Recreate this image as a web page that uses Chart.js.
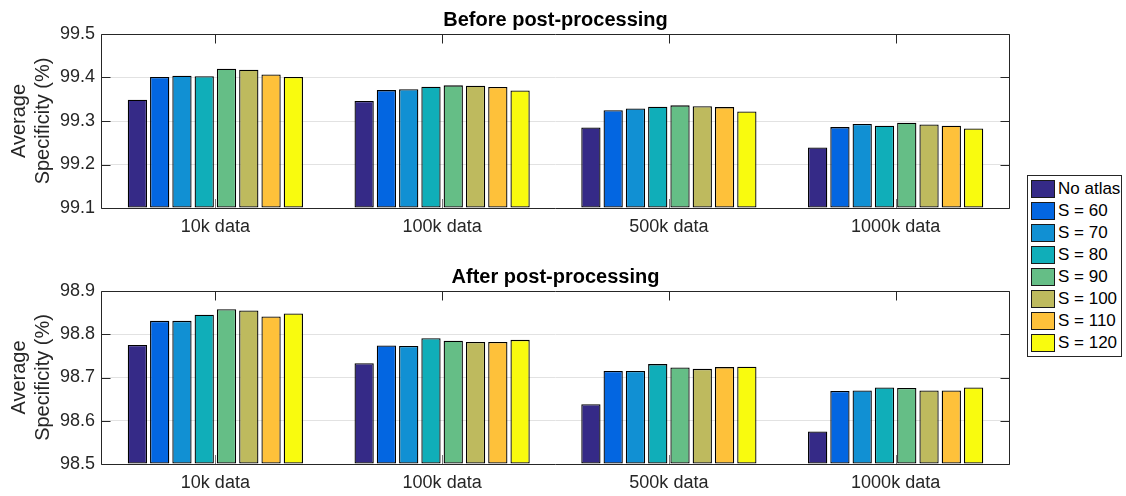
<!DOCTYPE html>
<html>
<head>
<meta charset="utf-8">
<script src="https://cdn.jsdelivr.net/npm/chart.js@4.4.1/dist/chart.umd.min.js"></script>
<style>
  html, body { margin: 0; padding: 0; background: #fff; }
  #wrap { position: relative; width: 1126px; height: 496px; overflow: hidden; font-family: "Liberation Sans", Arial, sans-serif; }
  .pane { position: absolute; left: 0; width: 1126px; height: 248px; }
  #legend { position: absolute; left: 1027px; top: 175px; width: 95px; height: 182px; box-sizing: border-box; border: 1px solid #262626; background: #fff; }
  .item { position: absolute; left: 3px; height: 18px; width: 90px; }
  .sw { position: absolute; left: 0; top: 0; width: 24px; height: 18px; box-sizing: border-box; border: 1px solid #1a1a1a; }
  .lbl { position: absolute; left: 27px; top: -1px; font-size: 17px; line-height: 20px; color: #000; white-space: nowrap; }
</style>
</head>
<body>
<div id="wrap">
  <canvas id="before" class="pane" style="top:0" width="1126" height="248"></canvas>
  <canvas id="after" class="pane" style="top:248px" width="1126" height="248"></canvas>
  <div id="legend"></div>
</div>
<script>
// Dataset sizes on the x axis
const categories = ['10k data', '100k data', '500k data', '1000k data'];

// Series names and fill colours
const seriesNames = ['No atlas', 'S = 60', 'S = 70', 'S = 80', 'S = 90', 'S = 100', 'S = 110', 'S = 120'];
const seriesColors = ['#352A87', '#0366E1', '#1190D3', '#10AEB9', '#65BE86', '#BEBA5E', '#FEC13A', '#F9FB0E'];

// Average specificity (%) before post-processing, one array per series
const noAtlasBefore = [99.349, 99.346, 99.285, 99.239];
const s60Before     = [99.401, 99.371, 99.325, 99.286];
const s70Before     = [99.404, 99.373, 99.329, 99.293];
const s80Before     = [99.403, 99.379, 99.333, 99.289];
const s90Before     = [99.420, 99.382, 99.336, 99.296];
const s100Before    = [99.418, 99.381, 99.334, 99.292];
const s110Before    = [99.407, 99.378, 99.332, 99.289];
const s120Before    = [99.401, 99.370, 99.322, 99.283];

// Average specificity (%) after post-processing
const noAtlasAfter = [98.775, 98.733, 98.638, 98.575];
const s60After     = [98.831, 98.774, 98.715, 98.669];
const s70After     = [98.831, 98.773, 98.715, 98.670];
const s80After     = [98.845, 98.791, 98.731, 98.677];
const s90After     = [98.858, 98.785, 98.723, 98.676];
const s100After    = [98.855, 98.782, 98.720, 98.670];
const s110After    = [98.841, 98.782, 98.724, 98.670];
const s120After    = [98.848, 98.787, 98.725, 98.677];

// Value axis ranges
const beforeTicks = [99.1, 99.2, 99.3, 99.4, 99.5];
const afterTicks  = [98.5, 98.6, 98.7, 98.8, 98.9];

const beforeSeries = [noAtlasBefore, s60Before, s70Before, s80Before, s90Before, s100Before, s110Before, s120Before];
const afterSeries  = [noAtlasAfter, s60After, s70After, s80After, s90After, s100After, s110After, s120After];

const FONT = '"Liberation Sans", Arial, sans-serif';
const AXIS = '#262626';

// Axes box, inward tick marks and the panel title
const framePlugin = {
  id: 'frame',
  beforeDatasetsDraw(chart) {
    const { ctx, chartArea: a, scales: { x } } = chart;
    ctx.save();
    ctx.strokeStyle = '#7a7a7a';
    ctx.lineWidth = 1;
    x.ticks.forEach((t, i) => {
      const px = Math.round(x.getPixelForTick(i)) + 0.5;
      ctx.beginPath();
      ctx.moveTo(px, a.bottom);
      ctx.lineTo(px, a.bottom - 9);
      ctx.stroke();
    });
    ctx.restore();
  },
  afterDatasetsDraw(chart, args, opts) {
    const { ctx, chartArea: a, scales: { x, y } } = chart;
    const L = Math.round(a.left) - 0.5, R = Math.round(a.right) + 0.5;
    const T = Math.round(a.top) + 0.5, B = Math.round(a.bottom) + 0.5;
    ctx.save();
    ctx.strokeStyle = AXIS;
    ctx.lineWidth = 1;
    ctx.beginPath();
    ctx.rect(L, T, R - L, B - T);
    ctx.stroke();
    y.ticks.forEach((t, i) => {
      const py = Math.round(y.getPixelForTick(i)) + 0.5;
      ctx.beginPath();
      ctx.moveTo(L, py); ctx.lineTo(L + 9, py);
      ctx.moveTo(R, py); ctx.lineTo(R - 9, py);
      ctx.stroke();
    });
    x.ticks.forEach((t, i) => {
      const px = Math.round(x.getPixelForTick(i)) + 0.5;
      ctx.beginPath();
      ctx.moveTo(px, T); ctx.lineTo(px, T + 9);
      ctx.stroke();
    });
    ctx.fillStyle = '#000';
    ctx.font = 'bold 20px ' + FONT;
    ctx.textAlign = 'center';
    ctx.textBaseline = 'alphabetic';
    ctx.fillText(opts.text, (a.left + a.right) / 2, a.top - 8.5);
    ctx.restore();
  }
};

function makeChart(id, series, ticks, title, padTop, xAxisHeight) {
  const yMin = ticks[0], yMax = ticks[ticks.length - 1];
  const datasets = series.map((vals, i) => ({
    label: seriesNames[i],
    data: vals,
    backgroundColor: seriesColors[i],
    borderColor: '#000',
    borderWidth: 1.3,
    borderSkipped: false,
    base: yMin,
    barPercentage: 0.865,
    categoryPercentage: 0.786
  }));
  return new Chart(document.getElementById(id), {
    type: 'bar',
    data: { labels: categories, datasets },
    options: {
      responsive: false,
      animation: false,
      devicePixelRatio: 1,
      layout: { padding: { top: padTop, left: 0, right: 117, bottom: 0 } },
      plugins: {
        legend: { display: false },
        tooltip: { enabled: false },
        frame: { text: title }
      },
      scales: {
        x: {
          type: 'category',
          grid: { display: false, drawTicks: false },
          border: { display: false },
          ticks: { color: AXIS, font: { family: FONT, size: 18 }, padding: 8, maxRotation: 0 },
          afterFit(scale) { scale.height = xAxisHeight; }
        },
        y: {
          min: yMin,
          max: yMax,
          grid: { color: '#e2e2e2', drawTicks: false, lineWidth: 1 },
          border: { display: false },
          ticks: {
            stepSize: 0.1,
            color: AXIS,
            padding: 7,
            font: { family: FONT, size: 18 },
            callback: v => Number(v).toFixed(1)
          },
          title: {
            display: true,
            text: ['Average', 'Specificity (%)'],
            color: AXIS,
            font: { family: FONT, size: 20, lineHeight: 1.2 },
            padding: { top: 7, bottom: 0 }
          },
          afterFit(scale) { scale.width = 102; }
        }
      }
    },
    plugins: [framePlugin]
  });
}

makeChart('before', beforeSeries, beforeTicks, 'Before post-processing', 34, 40);
makeChart('after', afterSeries, afterTicks, 'After post-processing', 43, 32);

// Shared legend
const legend = document.getElementById('legend');
seriesNames.forEach((name, i) => {
  const item = document.createElement('div');
  item.className = 'item';
  item.style.top = (4 + i * 22) + 'px';
  const sw = document.createElement('div');
  sw.className = 'sw';
  sw.style.background = seriesColors[i];
  const lbl = document.createElement('div');
  lbl.className = 'lbl';
  lbl.textContent = name;
  item.appendChild(sw);
  item.appendChild(lbl);
  legend.appendChild(item);
});
</script>
</body>
</html>
